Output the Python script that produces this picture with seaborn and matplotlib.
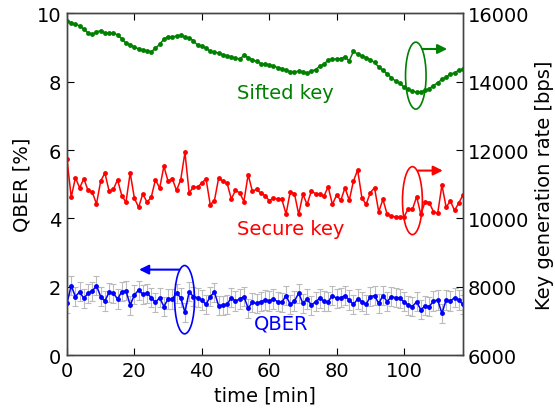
import numpy as np
import seaborn as sns
import matplotlib.pyplot as plt
from matplotlib.patches import Ellipse

STEP = 1.25  # minutes between samples

sifted_key = [15780, 15730, 15680, 15640, 15540, 15430, 15385, 15455, 15500, 15425,
              15425, 15425, 15375, 15255, 15130, 15090, 15010, 14970, 14930, 14910,
              14880, 14980, 15100, 15245, 15325, 15305, 15345, 15365, 15305, 15285,
              15205, 15070, 15050, 14990, 14890, 14870, 14840, 14790, 14760, 14730,
              14690, 14670, 14770, 14710, 14650, 14595, 14535, 14515, 14495, 14465,
              14415, 14385, 14335, 14295, 14295, 14305, 14295, 14245, 14315, 14355,
              14455, 14515, 14635, 14665, 14665, 14680, 14730, 14615, 14890, 14810,
              14750, 14710, 14645, 14565, 14435, 14335, 14235, 14120, 14020, 13950,
              13850, 13775, 13725, 13695, 13705, 13745, 13800, 13890, 13970, 14070,
              14140, 14220, 14265, 14335, 14365]

secure_key = [11734, 10620, 11190, 10896, 11162, 10818, 10768, 10424, 11093, 11330,
              10798, 10847, 11133, 10670, 10473, 11330, 10591, 10325, 10719, 10473,
              10620, 11133, 10887, 11527, 11084, 11162, 10818, 11133, 11931, 10749,
              10916, 10916, 11034, 11162, 10404, 10522, 11182, 11084, 11034, 10571,
              10818, 10749, 10493, 11281, 10798, 10847, 10739, 10670, 10522, 10591,
              10571, 10560, 10128, 10781, 10722, 10117, 10703, 10410, 10800, 10722,
              10703, 10650, 10927, 10410, 10683, 10527, 10898, 10527, 11093, 11420,
              10605, 10410, 10752, 10898, 10195, 10556, 10117, 10068, 10039, 10039,
              10045, 10283, 10264, 10635, 10117, 10488, 10459, 10195, 10146, 10976,
              10332, 10508, 10234, 10450, 10683]

qber = [1.51, 2.03, 1.71, 1.85, 1.66, 1.81, 1.87, 2.03, 1.71, 1.58,
        1.84, 1.81, 1.64, 1.85, 1.88, 1.46, 1.76, 1.90, 1.78, 1.81,
        1.68, 1.54, 1.68, 1.42, 1.64, 1.64, 1.81, 1.68, 1.25, 1.85,
        1.71, 1.68, 1.61, 1.48, 1.71, 1.84, 1.44, 1.46, 1.48, 1.68,
        1.58, 1.64, 1.71, 1.37, 1.54, 1.51, 1.56, 1.61, 1.58, 1.64,
        1.56, 1.54, 1.74, 1.48, 1.58, 1.81, 1.51, 1.64, 1.46, 1.56,
        1.66, 1.58, 1.56, 1.74, 1.66, 1.68, 1.74, 1.61, 1.48, 1.64,
        1.56, 1.48, 1.71, 1.74, 1.51, 1.74, 1.56, 1.71, 1.68, 1.66,
        1.56, 1.46, 1.42, 1.56, 1.32, 1.44, 1.42, 1.58, 1.61, 1.22,
        1.61, 1.58, 1.68, 1.61, 1.48]
qber_err = 0.28

time = np.arange(len(qber)) * STEP

sns.set_style('ticks')
plt.rcParams['font.family'] = ['DejaVu Sans']
plt.rcParams['font.size'] = 14
for key in ('text.color', 'axes.labelcolor', 'xtick.color', 'ytick.color'):
    plt.rcParams[key] = 'black'

fig = plt.figure(figsize=(5.55, 4.1), dpi=100)
ax = fig.add_axes([0.1207, 0.1317, 0.7135, 0.833])
ax2 = ax.twinx()

# QBER with gray error bars on the left axis
ax.errorbar(time, qber, yerr=qber_err, fmt='none', ecolor='#bbbbbb',
            elinewidth=0.8, capsize=2.5, capthick=0.8, zorder=1)
sns.lineplot(x=time, y=qber, ax=ax, color='blue', marker='o', markersize=3.5,
             markeredgewidth=0, linewidth=1.1, zorder=3)

# key rates on the right axis
sns.lineplot(x=time, y=sifted_key, ax=ax2, color='green', marker='o', markersize=3.5,
             markeredgewidth=0, linewidth=1.1)
sns.lineplot(x=time, y=secure_key, ax=ax2, color='red', marker='o', markersize=3.5,
             markeredgewidth=0, linewidth=1.1)

ax.set_xlim(0, 117.5)
ax.set_ylim(0, 10)
ax2.set_ylim(6000, 16000)
ax.set_xticks([0, 20, 40, 60, 80, 100])
ax.set_yticks([0, 2, 4, 6, 8, 10])
ax2.set_yticks([6000, 8000, 10000, 12000, 14000, 16000])

ax.set_xlabel('time [min]', fontsize=14)
ax.set_ylabel('QBER [%]', fontsize=14)
ax2.set_ylabel('Key generation rate [bps]', fontsize=14)

ax.tick_params(direction='in', top=True, right=False, length=5, labelsize=14, pad=4)
ax2.tick_params(direction='in', length=5, labelsize=14)
for a in (ax, ax2):
    for s in a.spines.values():
        s.set_color('#444444')
        s.set_linewidth(1.0)

# markers showing which axis each curve belongs to
ax2.add_patch(Ellipse((103.5, 14180), 6.1, 1960, fill=False, edgecolor='green', lw=1.2))
ax2.add_patch(Ellipse((102.5, 10520), 5.9, 1990, fill=False, edgecolor='red', lw=1.2))
ax.add_patch(Ellipse((34.9, 1.62), 5.9, 2.0, fill=False, edgecolor='blue', lw=1.2))

arrow = dict(arrowstyle='-|>', lw=1.5, mutation_scale=14, shrinkA=0, shrinkB=0)
ax2.annotate('', xy=(112.8, 14960), xytext=(105.4, 14960), arrowprops=dict(arrow, color='green'))
ax2.annotate('', xy=(111.5, 11400), xytext=(104.2, 11400), arrowprops=dict(arrow, color='red'))
ax.annotate('', xy=(21.4, 2.5), xytext=(33.4, 2.5), arrowprops=dict(arrow, color='blue'))

ax2.text(64.8, 13700, 'Sifted key', color='green', fontsize=14, ha='center', va='center')
ax2.text(66.4, 9700, 'Secure key', color='red', fontsize=14, ha='center', va='center')
ax.text(63.4, 0.94, 'QBER', color='blue', fontsize=14, ha='center', va='center')

fig.savefig('out.png', dpi=100)
